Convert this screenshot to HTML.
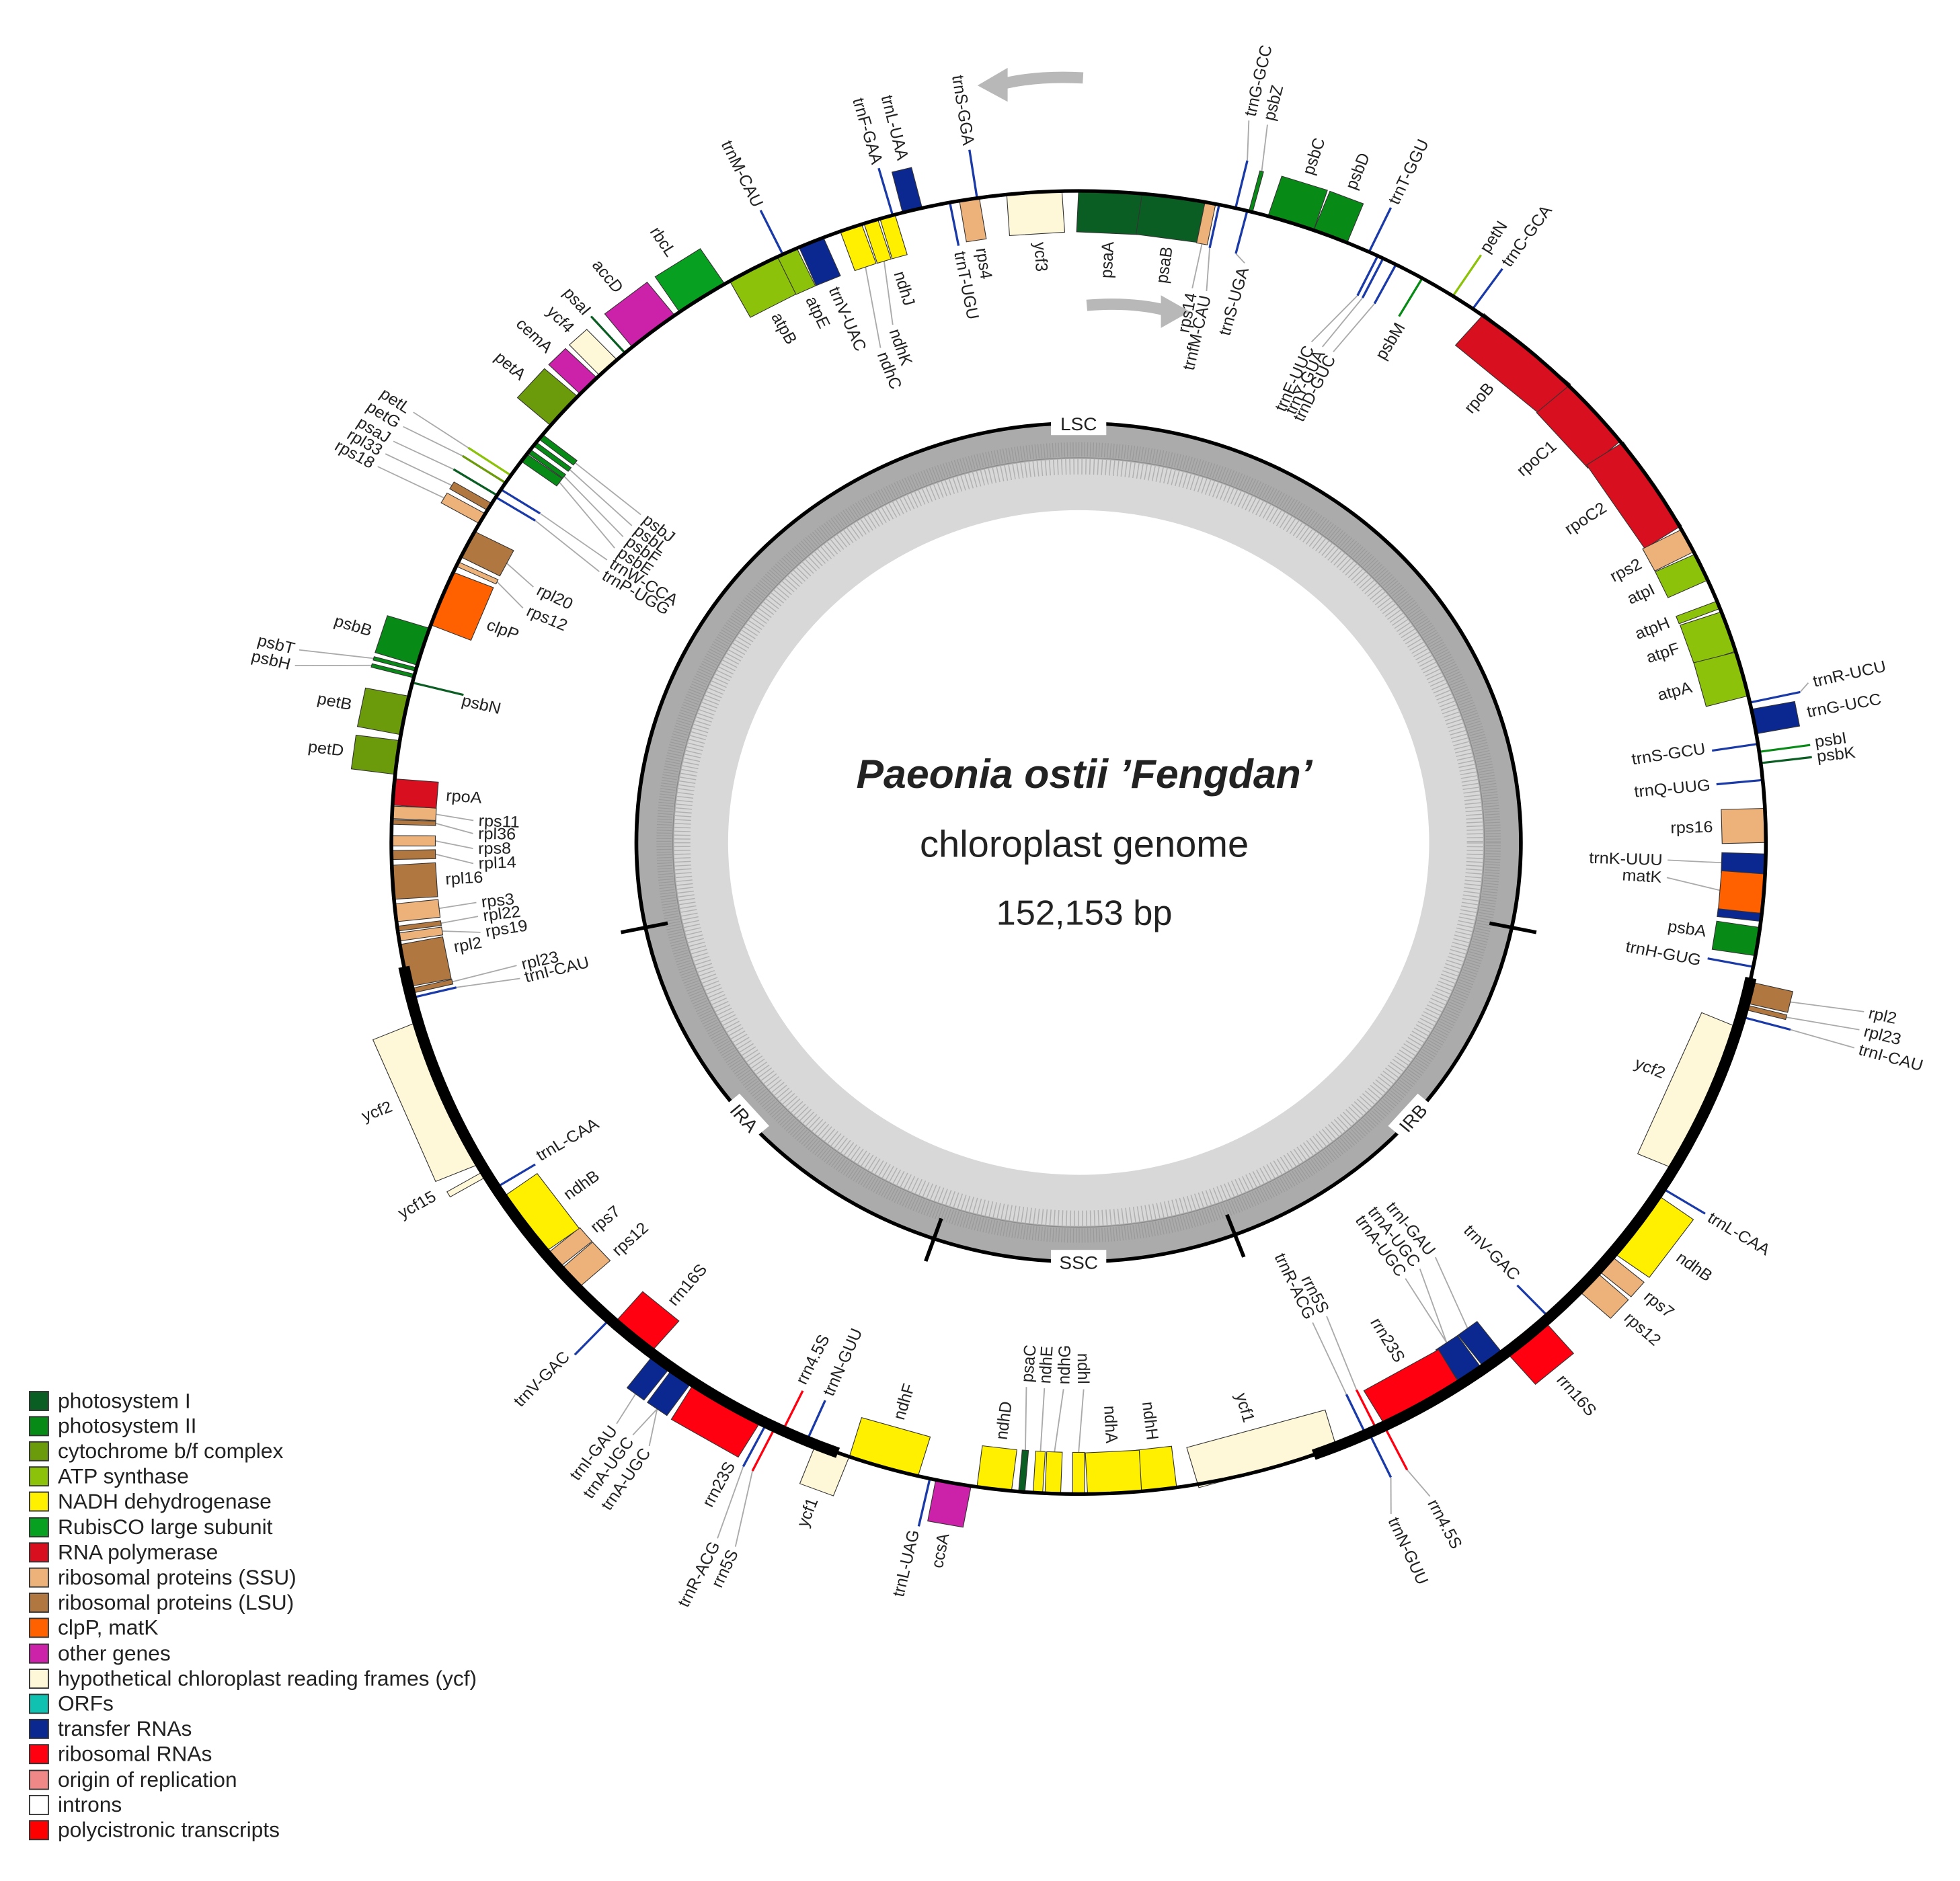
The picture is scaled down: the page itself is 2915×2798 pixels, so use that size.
<!DOCTYPE html>
<html><head><meta charset="utf-8"><style>
html,body{margin:0;padding:0;background:#fff}
svg{display:block}
text{font-family:"Liberation Sans",Arial,sans-serif;fill:#222}
.g rect{stroke:#333;stroke-width:.6}
.p1{fill:#0b5e23}.p2{fill:#078a16}.cy{fill:#6b9a0a}.at{fill:#8cc20a}.nd{fill:#fff000}.rb{fill:#08a020}.rp{fill:#d80f1e}.ss{fill:#edb27a}.ls{fill:#b07840}.cl{fill:#ff6000}.ot{fill:#cc22aa}.yc{fill:#fff8d8}.tr{fill:#0a2890}.rr{fill:#ff0010}
.lt{stroke:#1a3aa8;stroke-width:1.8}.lr{stroke:#ff0010;stroke-width:1.8}.lg{stroke:#078a16;stroke-width:1.8}.lp{stroke:#0b5e23;stroke-width:1.8}.lc{stroke:#8cc20a;stroke-width:1.8}.ly{stroke:#6b9a0a;stroke-width:1.8}
.ld line{stroke:#aaa;stroke-width:1}
.lab text{font-size:13.5px}
</style></head><body>
<svg width="2915" height="2798" viewBox="0 0 1560 1497" preserveAspectRatio="none" xmlns="http://www.w3.org/2000/svg">
<rect width="1560" height="1497" fill="#fff"/>
<path d="M862,62 Q825,60 797,67" stroke="#b8b8b8" stroke-width="9" fill="none"/>
<polygon points="778,68 802,54 802,81" fill="#b8b8b8"/>
<path d="M865,243 Q900,240 928,247" stroke="#b8b8b8" stroke-width="9" fill="none"/>
<polygon points="947,248 924,235 924,261" fill="#b8b8b8"/>

<g transform="translate(858.5,670.5) scale(1,0.948)">
<circle r="352" fill="#ababab"/>
<circle r="322" fill="#d8d8d8"/>
<circle r="316" fill="none" stroke="#b0b0b0" stroke-width="14" stroke-dasharray="0.8 2.4"/>
<circle r="330" fill="none" stroke="#9a9a9a" stroke-width="12" stroke-dasharray="0.7 1.6"/>
<circle r="323" fill="none" stroke="#8a8a8a" stroke-width="0.7"/>
<circle r="279" fill="#fff"/>
<circle r="352" fill="none" stroke="#000" stroke-width="3"/>
<g stroke="#000" stroke-width="3">
<line transform="rotate(101.7)" y1="-334" y2="-372"/>
<line transform="rotate(159.3)" y1="-334" y2="-372"/>
<line transform="rotate(199.1)" y1="-334" y2="-372"/>
<line transform="rotate(258.3)" y1="-334" y2="-372"/>
</g>
<g font-size="15">
<rect x="-22" y="-362" width="44" height="20" fill="#fff"/>
<text x="0" y="-346" text-anchor="middle" font-size="15">LSC</text>
<g transform="rotate(180) translate(0,-352) rotate(180)"><rect x="-22" y="-10" width="44" height="20" fill="#fff"/><text y="6" text-anchor="middle" font-size="15">SSC</text></g>
<g transform="rotate(131) translate(0,-352) rotate(180)"><rect x="-18" y="-10" width="36" height="20" fill="#fff"/><text y="6" text-anchor="middle" font-size="15">IRB</text></g>
<g transform="rotate(229) translate(0,-352) rotate(180)"><rect x="-18" y="-10" width="36" height="20" fill="#fff"/><text y="6" text-anchor="middle" font-size="15">IRA</text></g>
</g>

<g class="ld">
<line transform="rotate(13.2)" y1="-588" x2="-6.5" y2="-621"/>
<line transform="rotate(14.5)" y1="-582" x2="-5.4" y2="-621"/>
<line transform="rotate(77.6)" y1="-588" x2="-6.2" y2="-596"/>
<line transform="rotate(103.3)" y1="-582" x2="-5.6" y2="-641"/>
<line transform="rotate(104.6)" y1="-582" x2="-4.5" y2="-641"/>
<line transform="rotate(105.5)" y1="-588" x2="1.1" y2="-641"/>
<line transform="rotate(153.6)" y1="-588" x2="-6.4" y2="-616"/>
<line transform="rotate(155)" y1="-588" x2="12.9" y2="-616"/>
<line transform="rotate(206.2)" y1="-588" x2="-15.9" y2="-651"/>
<line transform="rotate(207)" y1="-588" x2="-9.1" y2="-651"/>
<line transform="rotate(217.3)" y1="-582" x2="-3.2" y2="-611"/>
<line transform="rotate(215.2)" y1="-582" x2="3.2" y2="-611"/>
<line transform="rotate(215.2)" y1="-582" x2="-12.8" y2="-611"/>
<line transform="rotate(284.8)" y1="-582" x2="-15.7" y2="-641"/>
<line transform="rotate(285.4)" y1="-582" x2="-8.9" y2="-641"/>
<line transform="rotate(299.8)" y1="-582" x2="-3.4" y2="-641"/>
<line transform="rotate(301)" y1="-582" x2="-4.5" y2="-641"/>
<line transform="rotate(302.2)" y1="-588" x2="-5.6" y2="-641"/>
<line transform="rotate(303.5)" y1="-588" x2="-5.6" y2="-641"/>
<line transform="rotate(304.3)" y1="-588" x2="0" y2="-641"/>
<line transform="rotate(11.05)" y1="-512" x2="-0.4" y2="-474"/>
<line transform="rotate(11.8)" y1="-510" x2="5" y2="-474"/>
<line transform="rotate(14.2)" y1="-510" x2="8.8" y2="-504"/>
<line transform="rotate(25.8)" y1="-510" x2="-16" y2="-459"/>
<line transform="rotate(26.3)" y1="-510" x2="-10.4" y2="-459"/>
<line transform="rotate(27.5)" y1="-510" x2="-10.4" y2="-459"/>
<line transform="rotate(91.9)" y1="-512" x2="-0.8" y2="-469"/>
<line transform="rotate(94.5)" y1="-512" x2="-7.4" y2="-469"/>
<line transform="rotate(142.8)" y1="-512" x2="-15.7" y2="-449"/>
<line transform="rotate(145.1)" y1="-512" x2="-18" y2="-449"/>
<line transform="rotate(145.1)" y1="-512" x2="-3.9" y2="-449"/>
<line transform="rotate(154.3)" y1="-510" x2="-5.4" y2="-444"/>
<line transform="rotate(155.3)" y1="-510" x2="-0.8" y2="-444"/>
<line transform="rotate(180)" y1="-512" x2="-4" y2="-459"/>
<line transform="rotate(182.15)" y1="-512" x2="-5.2" y2="-459"/>
<line transform="rotate(183.4)" y1="-512" x2="0" y2="-459"/>
<line transform="rotate(184.75)" y1="-512" x2="3.6" y2="-459"/>
<line transform="rotate(256.2)" y1="-510" x2="-4.8" y2="-459"/>
<line transform="rotate(256.8)" y1="-512" x2="1.6" y2="-459"/>
<line transform="rotate(261.65)" y1="-512" x2="-5.5" y2="-482"/>
<line transform="rotate(262.4)" y1="-512" x2="1.7" y2="-482"/>
<line transform="rotate(263.8)" y1="-512" x2="1.7" y2="-482"/>
<line transform="rotate(268.9)" y1="-512" x2="-8.4" y2="-482"/>
<line transform="rotate(270.15)" y1="-512" x2="-6.3" y2="-482"/>
<line transform="rotate(271.8)" y1="-512" x2="-7.6" y2="-482"/>
<line transform="rotate(272.65)" y1="-512" x2="-3.8" y2="-482"/>
<line transform="rotate(295.3)" y1="-512" x2="-11" y2="-484"/>
<line transform="rotate(297.25)" y1="-512" x2="-8" y2="-484"/>
<line transform="rotate(302)" y1="-510" x2="-9.3" y2="-444"/>
<line transform="rotate(302.8)" y1="-510" x2="-3.9" y2="-444"/>
<line transform="rotate(306.2)" y1="-512" x2="-18.6" y2="-444"/>
<line transform="rotate(306.9)" y1="-512" x2="-12.4" y2="-444"/>
<line transform="rotate(307.7)" y1="-512" x2="-7" y2="-444"/>
<line transform="rotate(308.5)" y1="-512" x2="-1.5" y2="-444"/>
<line transform="rotate(340.65)" y1="-512" x2="-11.2" y2="-444"/>
<line transform="rotate(342.4)" y1="-512" x2="-9.6" y2="-459"/>
</g>

<g class="g">
<rect transform="rotate(2.65)" x="-25.3" y="-547" width="50.6" height="35" class="p1"/>
<rect transform="rotate(7.95)" x="-25.3" y="-547" width="50.6" height="35" class="p1"/>
<rect transform="rotate(11.05)" x="-4.3" y="-547" width="8.6" height="35" class="ss"/>
<rect transform="rotate(14.5)" x="-1.5" y="-582" width="3" height="35" class="p2"/>
<rect transform="rotate(18)" x="-19.1" y="-582" width="38.2" height="35" class="p2"/>
<rect transform="rotate(21.5)" x="-14.3" y="-582" width="28.6" height="35" class="p2"/>
<rect transform="rotate(40.75)" x="-45.3" y="-547" width="90.7" height="35" class="rp"/>
<rect transform="rotate(48.75)" x="-31" y="-547" width="62" height="35" class="rp"/>
<rect transform="rotate(56.6)" x="-42" y="-547" width="84" height="35" class="rp"/>
<rect transform="rotate(62.4)" x="-10.5" y="-547" width="21" height="35" class="ss"/>
<rect transform="rotate(65)" x="-12" y="-547" width="24" height="35" class="at"/>
<rect transform="rotate(68.6)" x="-3.3" y="-547" width="6.7" height="35" class="at"/>
<rect transform="rotate(71.1)" x="-17.5" y="-547" width="35" height="35" class="at"/>
<rect transform="rotate(75)" x="-19" y="-547" width="38" height="35" class="at"/>
<rect transform="rotate(79.3)" x="-10.5" y="-582" width="21" height="35" class="tr"/>
<rect transform="rotate(88.5)" x="-14.3" y="-547" width="28.6" height="35" class="ss"/>
<rect transform="rotate(91.9)" x="-8.5" y="-547" width="17" height="35" class="tr"/>
<rect transform="rotate(94.5)" x="-16.5" y="-547" width="33" height="35" class="cl"/>
<rect transform="rotate(96.6)" x="-3.3" y="-547" width="6.7" height="35" class="tr"/>
<rect transform="rotate(98.75)" x="-12" y="-547" width="24" height="35" class="p2"/>
<rect transform="rotate(103.3)" x="-9" y="-582" width="18" height="35" class="ls"/>
<rect transform="rotate(104.6)" x="-2" y="-582" width="4" height="35" class="ls"/>
<rect transform="rotate(113.25)" x="-64.5" y="-547" width="129" height="35" class="yc"/>
<rect transform="rotate(125.85)" x="-30" y="-582" width="60" height="35" class="nd"/>
<rect transform="rotate(130.15)" x="-8" y="-582" width="16" height="35" class="ss"/>
<rect transform="rotate(132.3)" x="-10.5" y="-582" width="21" height="35" class="ss"/>
<rect transform="rotate(139.4)" x="-20" y="-582" width="40" height="35" class="rr"/>
<rect transform="rotate(142.8)" x="-9.5" y="-547" width="19" height="35" class="tr"/>
<rect transform="rotate(145.1)" x="-10.5" y="-547" width="21" height="35" class="tr"/>
<rect transform="rotate(149.9)" x="-34.3" y="-547" width="68.7" height="35" class="rr"/>
<rect transform="rotate(164)" x="-57.3" y="-547" width="114.6" height="35" class="yc"/>
<rect transform="rotate(173.3)" x="-14.3" y="-547" width="28.6" height="35" class="nd"/>
<rect transform="rotate(177)" x="-21.5" y="-547" width="43" height="35" class="nd"/>
<rect transform="rotate(180)" x="-4.7" y="-547" width="9.5" height="35" class="nd"/>
<rect transform="rotate(182.15)" x="-6.2" y="-547" width="12.4" height="35" class="nd"/>
<rect transform="rotate(183.4)" x="-3.8" y="-547" width="7.6" height="35" class="nd"/>
<rect transform="rotate(184.75)" x="-2.5" y="-547" width="5" height="35" class="p1"/>
<rect transform="rotate(187.05)" x="-13.8" y="-547" width="27.7" height="35" class="nd"/>
<rect transform="rotate(190.5)" x="-14.3" y="-582" width="28.6" height="35" class="ot"/>
<rect transform="rotate(196.5)" x="-28.5" y="-547" width="57" height="35" class="nd"/>
<rect transform="rotate(201)" x="-14.3" y="-582" width="28.6" height="35" class="yc"/>
<rect transform="rotate(210.75)" x="-31" y="-582" width="62" height="35" class="rr"/>
<rect transform="rotate(215.2)" x="-9.5" y="-582" width="19" height="35" class="tr"/>
<rect transform="rotate(217.3)" x="-8.5" y="-582" width="17" height="35" class="tr"/>
<rect transform="rotate(220.5)" x="-19" y="-547" width="38" height="35" class="rr"/>
<rect transform="rotate(227.9)" x="-10.5" y="-547" width="21" height="35" class="ss"/>
<rect transform="rotate(230)" x="-7.5" y="-547" width="15" height="35" class="ss"/>
<rect transform="rotate(234)" x="-28.5" y="-547" width="57" height="35" class="nd"/>
<rect transform="rotate(239.5)" x="-2.5" y="-582" width="5" height="35" class="yc"/>
<rect transform="rotate(247.25)" x="-64.5" y="-582" width="129" height="35" class="yc"/>
<rect transform="rotate(256.8)" x="-2" y="-547" width="4" height="35" class="ls"/>
<rect transform="rotate(259.1)" x="-18" y="-547" width="36" height="35" class="ls"/>
<rect transform="rotate(261.65)" x="-3.3" y="-547" width="6.7" height="35" class="ss"/>
<rect transform="rotate(262.4)" x="-2" y="-547" width="4" height="35" class="ls"/>
<rect transform="rotate(263.8)" x="-7.5" y="-547" width="15" height="35" class="ss"/>
<rect transform="rotate(266.5)" x="-14.3" y="-547" width="28.6" height="35" class="ls"/>
<rect transform="rotate(268.9)" x="-3.8" y="-547" width="7.6" height="35" class="ls"/>
<rect transform="rotate(270.15)" x="-4.3" y="-547" width="8.6" height="35" class="ss"/>
<rect transform="rotate(271.8)" x="-1.9" y="-547" width="3.8" height="35" class="ls"/>
<rect transform="rotate(272.65)" x="-5.2" y="-547" width="10.5" height="35" class="ss"/>
<rect transform="rotate(274.45)" x="-11" y="-547" width="22" height="35" class="rp"/>
<rect transform="rotate(277.5)" x="-14.3" y="-582" width="28.6" height="35" class="cy"/>
<rect transform="rotate(281.25)" x="-16.5" y="-582" width="33" height="35" class="cy"/>
<rect transform="rotate(284.8)" x="-1.5" y="-582" width="3" height="35" class="p2"/>
<rect transform="rotate(285.4)" x="-1.5" y="-582" width="3" height="35" class="p2"/>
<rect transform="rotate(287.5)" x="-16.3" y="-582" width="32.5" height="35" class="p2"/>
<rect transform="rotate(292)" x="-23.8" y="-547" width="47.7" height="35" class="cl"/>
<rect transform="rotate(295.3)" x="-2" y="-547" width="4" height="35" class="ss"/>
<rect transform="rotate(297.25)" x="-12" y="-547" width="24" height="35" class="ls"/>
<rect transform="rotate(299.8)" x="-4.7" y="-582" width="9.5" height="35" class="ss"/>
<rect transform="rotate(301)" x="-3.3" y="-582" width="6.7" height="35" class="ls"/>
<rect transform="rotate(306.2)" x="-3.8" y="-547" width="7.6" height="35" class="p2"/>
<rect transform="rotate(306.9)" x="-1.9" y="-547" width="3.8" height="35" class="p2"/>
<rect transform="rotate(307.7)" x="-1.9" y="-547" width="3.8" height="35" class="p2"/>
<rect transform="rotate(308.5)" x="-2.4" y="-547" width="4.8" height="35" class="p2"/>
<rect transform="rotate(311.5)" x="-16.3" y="-582" width="32.5" height="35" class="cy"/>
<rect transform="rotate(314.5)" x="-9.5" y="-582" width="19" height="35" class="ot"/>
<rect transform="rotate(316.8)" x="-9.5" y="-582" width="19" height="35" class="yc"/>
<rect transform="rotate(321.75)" x="-21.5" y="-582" width="43" height="35" class="ot"/>
<rect transform="rotate(326.75)" x="-21.5" y="-582" width="43" height="35" class="rb"/>
<rect transform="rotate(331.75)" x="-21.5" y="-547" width="43" height="35" class="at"/>
<rect transform="rotate(334.9)" x="-8.5" y="-547" width="17" height="35" class="at"/>
<rect transform="rotate(337.1)" x="-10.5" y="-547" width="21" height="35" class="tr"/>
<rect transform="rotate(340.65)" x="-9" y="-547" width="18" height="35" class="nd"/>
<rect transform="rotate(342.4)" x="-5.7" y="-547" width="11.5" height="35" class="nd"/>
<rect transform="rotate(343.85)" x="-6.2" y="-547" width="12.4" height="35" class="nd"/>
<rect transform="rotate(346)" x="-8" y="-582" width="16" height="35" class="tr"/>
<rect transform="rotate(350.85)" x="-8" y="-547" width="16" height="35" class="ss"/>
<rect transform="rotate(356.3)" x="-22" y="-547" width="44" height="35" class="yc"/>
</g>

<g>
<line transform="rotate(11.8)" y1="-547" y2="-510" class="lt"/>
<line transform="rotate(13.2)" y1="-547" y2="-588" class="lt"/>
<line transform="rotate(14.2)" y1="-547" y2="-510" class="lt"/>
<line transform="rotate(25)" y1="-547" y2="-588" class="lt"/>
<line transform="rotate(25.8)" y1="-547" y2="-510" class="lt"/>
<line transform="rotate(26.3)" y1="-547" y2="-510" class="lt"/>
<line transform="rotate(27.5)" y1="-547" y2="-510" class="lt"/>
<line transform="rotate(30)" y1="-547" y2="-510" class="lg"/>
<line transform="rotate(33)" y1="-547" y2="-588" class="lc"/>
<line transform="rotate(35)" y1="-547" y2="-588" class="lt"/>
<line transform="rotate(77.6)" y1="-547" y2="-588" class="lt"/>
<line transform="rotate(81.3)" y1="-547" y2="-510" class="lt"/>
<line transform="rotate(82)" y1="-547" y2="-588" class="lg"/>
<line transform="rotate(83)" y1="-547" y2="-588" class="lp"/>
<line transform="rotate(84.5)" y1="-547" y2="-510" class="lt"/>
<line transform="rotate(101)" y1="-547" y2="-510" class="lt"/>
<line transform="rotate(105.5)" y1="-547" y2="-588" class="lt"/>
<line transform="rotate(122)" y1="-547" y2="-588" class="lt"/>
<line transform="rotate(136.8)" y1="-547" y2="-510" class="lt"/>
<line transform="rotate(153.6)" y1="-547" y2="-588" class="lr"/>
<line transform="rotate(155)" y1="-547" y2="-588" class="lt"/>
<line transform="rotate(154.3)" y1="-547" y2="-510" class="lr"/>
<line transform="rotate(155.3)" y1="-547" y2="-510" class="lt"/>
<line transform="rotate(192.5)" y1="-547" y2="-588" class="lt"/>
<line transform="rotate(203.3)" y1="-547" y2="-510" class="lt"/>
<line transform="rotate(205.5)" y1="-547" y2="-510" class="lr"/>
<line transform="rotate(206.2)" y1="-547" y2="-588" class="lr"/>
<line transform="rotate(207)" y1="-547" y2="-588" class="lt"/>
<line transform="rotate(223)" y1="-547" y2="-588" class="lt"/>
<line transform="rotate(238)" y1="-547" y2="-510" class="lt"/>
<line transform="rotate(256.2)" y1="-547" y2="-510" class="lt"/>
<line transform="rotate(284.2)" y1="-547" y2="-505" class="lp"/>
<line transform="rotate(302)" y1="-547" y2="-510" class="lt"/>
<line transform="rotate(302.8)" y1="-547" y2="-510" class="lt"/>
<line transform="rotate(302.2)" y1="-547" y2="-588" class="lp"/>
<line transform="rotate(303.5)" y1="-547" y2="-588" class="ly"/>
<line transform="rotate(304.3)" y1="-547" y2="-588" class="lc"/>
<line transform="rotate(318.7)" y1="-547" y2="-588" class="lp"/>
<line transform="rotate(334.5)" y1="-547" y2="-588" class="lt"/>
<line transform="rotate(344.3)" y1="-547" y2="-588" class="lt"/>
<line transform="rotate(349.2)" y1="-547" y2="-510" class="lt"/>
<line transform="rotate(351.5)" y1="-547" y2="-588" class="lt"/>
</g>

<circle r="547" fill="none" stroke="#000" stroke-width="3"/>
<path d="M535.1,113.7 A547,547 0 0 1 187.1,514" fill="none" stroke="#000" stroke-width="9"/>
<path d="M-191.6,512.4 A547,547 0 0 1 -537,104.4" fill="none" stroke="#000" stroke-width="9"/>

<g class="lab">
<g text-anchor="start">
<text transform="rotate(-72)" x="590" y="4.5">psbC</text>
<text transform="rotate(-68.5)" x="590" y="4.5">psbD</text>
<text transform="rotate(-65)" x="592" y="4.5">trnT-GGU</text>
<text transform="rotate(-77.4)" x="625" y="4.5">trnG-GCC</text>
<text transform="rotate(-76)" x="625" y="4.5">psbZ</text>
<text transform="rotate(-57)" x="592" y="4.5">petN</text>
<text transform="rotate(-55)" x="592" y="4.5">trnC-GCA</text>
<text transform="rotate(-13)" x="600" y="4.5">trnR-UCU</text>
<text transform="rotate(-10.7)" x="590" y="4.5">trnG-UCC</text>
<text transform="rotate(-8.2)" x="592" y="4.5">psbI</text>
<text transform="rotate(-7)" x="592" y="4.5">psbK</text>
<text transform="rotate(12.8)" x="645" y="4.5">rpl2</text>
<text transform="rotate(14.2)" x="645" y="4.5">rpl23</text>
<text transform="rotate(15.6)" x="645" y="4.5">trnI-CAU</text>
<text transform="rotate(32)" x="592" y="4.5">trnL-CAA</text>
<text transform="rotate(36)" x="590" y="4.5">ndhB</text>
<text transform="rotate(40)" x="590" y="4.5">rps7</text>
<text transform="rotate(42.3)" x="590" y="4.5">rps12</text>
<text transform="rotate(49.5)" x="590" y="4.5">rrn16S</text>
<text transform="rotate(63)" x="620" y="4.5">rrn4.5S</text>
<text transform="rotate(66.2)" x="620" y="4.5">trnN-GUU</text>
<text transform="rotate(271.5)" x="-455" y="4.5">ndhG</text>
<text transform="rotate(273.4)" x="-455" y="4.5">ndhE</text>
<text transform="rotate(275.2)" x="-455" y="4.5">psaC</text>
<text transform="rotate(277)" x="-505" y="4.5">ndhD</text>
<text transform="rotate(286.5)" x="-505" y="4.5">ndhF</text>
<text transform="rotate(293.3)" x="-505" y="4.5">trnN-GUU</text>
<text transform="rotate(296)" x="-505" y="4.5">rrn4.5S</text>
<text transform="rotate(310)" x="-505" y="4.5">rrn16S</text>
<text transform="rotate(317)" x="-505" y="4.5">rps12</text>
<text transform="rotate(320)" x="-505" y="4.5">rps7</text>
<text transform="rotate(324)" x="-505" y="4.5">ndhB</text>
<text transform="rotate(328.5)" x="-505" y="4.5">trnL-CAA</text>
<text transform="rotate(345.6)" x="-455" y="4.5">trnI-CAU</text>
<text transform="rotate(347)" x="-455" y="4.5">rpl23</text>
<text transform="rotate(350)" x="-505" y="4.5">rpl2</text>
<text transform="rotate(351)" x="-478" y="4.5">rps19</text>
<text transform="rotate(352.6)" x="-478" y="4.5">rpl22</text>
<text transform="rotate(354)" x="-478" y="4.5">rps3</text>
<text transform="rotate(356.5)" x="-505" y="4.5">rpl16</text>
<text transform="rotate(357.9)" x="-478" y="4.5">rpl14</text>
<text transform="rotate(359.4)" x="-478" y="4.5">rps8</text>
<text transform="rotate(360.9)" x="-478" y="4.5">rpl36</text>
<text transform="rotate(362.2)" x="-478" y="4.5">rps11</text>
<text transform="rotate(364.5)" x="-505" y="4.5">rpoA</text>
<text transform="rotate(373.7)" x="-505" y="4.5">psbN</text>
<text transform="rotate(381.3)" x="-505" y="4.5">clpP</text>
<text transform="rotate(384)" x="-480" y="4.5">rps12</text>
<text transform="rotate(386.3)" x="-480" y="4.5">rpl20</text>
<text transform="rotate(390.8)" x="-440" y="4.5">trnP-UGG</text>
<text transform="rotate(392.3)" x="-440" y="4.5">trnW-CCA</text>
<text transform="rotate(393.8)" x="-440" y="4.5">psbE</text>
<text transform="rotate(395.3)" x="-440" y="4.5">psbF</text>
<text transform="rotate(396.8)" x="-440" y="4.5">psbL</text>
<text transform="rotate(398.3)" x="-440" y="4.5">psbJ</text>
<text transform="rotate(421.5)" x="-505" y="4.5">atpB</text>
<text transform="rotate(425)" x="-505" y="4.5">atpE</text>
<text transform="rotate(427.3)" x="-505" y="4.5">trnV-UAC</text>
<text transform="rotate(429.2)" x="-440" y="4.5">ndhC</text>
<text transform="rotate(431.2)" x="-455" y="4.5">ndhK</text>
<text transform="rotate(433.4)" x="-500" y="4.5">ndhJ</text>
<text transform="rotate(439.2)" x="-505" y="4.5">trnT-UGU</text>
<text transform="rotate(441.2)" x="-505" y="4.5">rps4</text>
<text transform="rotate(446.5)" x="-505" y="4.5">ycf3</text>
</g>
<g text-anchor="end">
<text transform="rotate(-87.35)" x="505" y="4.5">psaA</text>
<text transform="rotate(-82)" x="505" y="4.5">psaB</text>
<text transform="rotate(-79)" x="470" y="4.5">rps14</text>
<text transform="rotate(-77.6)" x="470" y="4.5">trnfM-CAU</text>
<text transform="rotate(-74.8)" x="500" y="4.5">trnS-UGA</text>
<text transform="rotate(-66.2)" x="455" y="4.5">trnE-UUC</text>
<text transform="rotate(-65)" x="455" y="4.5">trnY-GUA</text>
<text transform="rotate(-63.8)" x="455" y="4.5">trnD-GUC</text>
<text transform="rotate(-59.5)" x="505" y="4.5">psbM</text>
<text transform="rotate(-49.5)" x="505" y="4.5">rpoB</text>
<text transform="rotate(-41.5)" x="505" y="4.5">rpoC1</text>
<text transform="rotate(-34)" x="505" y="4.5">rpoC2</text>
<text transform="rotate(-27.7)" x="505" y="4.5">rps2</text>
<text transform="rotate(-25)" x="505" y="4.5">atpI</text>
<text transform="rotate(-21.5)" x="505" y="4.5">atpH</text>
<text transform="rotate(-18.9)" x="505" y="4.5">atpF</text>
<text transform="rotate(-15)" x="505" y="4.5">atpA</text>
<text transform="rotate(-9)" x="505" y="4.5">trnS-GCU</text>
<text transform="rotate(-5.5)" x="505" y="4.5">trnQ-UUG</text>
<text transform="rotate(-1.5)" x="505" y="4.5">rps16</text>
<text transform="rotate(1.8)" x="465" y="4.5">trnK-UUU</text>
<text transform="rotate(3.6)" x="465" y="4.5">matK</text>
<text transform="rotate(8.5)" x="505" y="4.5">psbA</text>
<text transform="rotate(11.3)" x="505" y="4.5">trnH-GUG</text>
<text transform="rotate(22.6)" x="505" y="4.5">ycf2</text>
<text transform="rotate(46.3)" x="505" y="4.5">trnV-GAC</text>
<text transform="rotate(50.8)" x="445" y="4.5">trnI-GAU</text>
<text transform="rotate(52.8)" x="445" y="4.5">trnA-UGC</text>
<text transform="rotate(54.6)" x="445" y="4.5">trnA-UGC</text>
<text transform="rotate(59.5)" x="505" y="4.5">rrn23S</text>
<text transform="rotate(63.6)" x="440" y="4.5">rrn5S</text>
<text transform="rotate(65.2)" x="440" y="4.5">trnR-ACG</text>
<text transform="rotate(74.4)" x="505" y="4.5">ycf1</text>
<text transform="rotate(83.3)" x="505" y="4.5">ndhH</text>
<text transform="rotate(87)" x="505" y="4.5">ndhA</text>
<text transform="rotate(89.5)" x="455" y="4.5">ndhI</text>
<text transform="rotate(280.5)" x="-590" y="4.5">ccsA</text>
<text transform="rotate(282.8)" x="-592" y="4.5">trnL-UAG</text>
<text transform="rotate(291)" x="-590" y="4.5">ycf1</text>
<text transform="rotate(294.8)" x="-655" y="4.5">rrn5S</text>
<text transform="rotate(296.2)" x="-655" y="4.5">trnR-ACG</text>
<text transform="rotate(298)" x="-590" y="4.5">rrn23S</text>
<text transform="rotate(304)" x="-615" y="4.5">trnA-UGC</text>
<text transform="rotate(305.5)" x="-615" y="4.5">trnA-UGC</text>
<text transform="rotate(307)" x="-615" y="4.5">trnI-GAU</text>
<text transform="rotate(313.5)" x="-592" y="4.5">trnV-GAC</text>
<text transform="rotate(330)" x="-592" y="4.5">ycf15</text>
<text transform="rotate(338)" x="-590" y="4.5">ycf2</text>
<text transform="rotate(367.5)" x="-590" y="4.5">petD</text>
<text transform="rotate(371.3)" x="-590" y="4.5">petB</text>
<text transform="rotate(373.4)" x="-645" y="4.5">psbH</text>
<text transform="rotate(374.6)" x="-645" y="4.5">psbT</text>
<text transform="rotate(377.5)" x="-590" y="4.5">psbB</text>
<text transform="rotate(389.5)" x="-645" y="4.5">rps18</text>
<text transform="rotate(390.6)" x="-645" y="4.5">rpl33</text>
<text transform="rotate(391.7)" x="-645" y="4.5">psaJ</text>
<text transform="rotate(393)" x="-645" y="4.5">petG</text>
<text transform="rotate(394.3)" x="-645" y="4.5">petL</text>
<text transform="rotate(401.5)" x="-590" y="4.5">petA</text>
<text transform="rotate(404.5)" x="-590" y="4.5">cemA</text>
<text transform="rotate(406.8)" x="-590" y="4.5">ycf4</text>
<text transform="rotate(408.7)" x="-592" y="4.5">psaI</text>
<text transform="rotate(411.75)" x="-590" y="4.5">accD</text>
<text transform="rotate(416.75)" x="-590" y="4.5">rbcL</text>
<text transform="rotate(424.5)" x="-592" y="4.5">trnM-CAU</text>
<text transform="rotate(434.3)" x="-592" y="4.5">trnF-GAA</text>
<text transform="rotate(436.3)" x="-590" y="4.5">trnL-UAA</text>
<text transform="rotate(441.5)" x="-592" y="4.5">trnS-GGA</text>
</g>
</g>
</g>

<text x="863" y="627" text-anchor="middle" font-size="32.5" font-weight="bold" font-style="italic" fill="#111">Paeonia ostii ’Fengdan’</text>
<text x="863" y="682" text-anchor="middle" font-size="30" fill="#111">chloroplast genome</text>
<text x="863" y="736" text-anchor="middle" font-size="28" fill="#111">152,153 bp</text>

<g stroke="#333" stroke-width="1">
<rect x="23.5" y="1107.5" width="15" height="15" fill="#0b5e23"/>
<rect x="23.5" y="1127.5" width="15" height="15" fill="#078a16"/>
<rect x="23.5" y="1147.5" width="15" height="15" fill="#6b9a0a"/>
<rect x="23.5" y="1167.5" width="15" height="15" fill="#8cc20a"/>
<rect x="23.5" y="1187.5" width="15" height="15" fill="#fff000"/>
<rect x="23.5" y="1208" width="15" height="15" fill="#08a020"/>
<rect x="23.5" y="1228" width="15" height="15" fill="#d80f1e"/>
<rect x="23.5" y="1248" width="15" height="15" fill="#edb27a"/>
<rect x="23.5" y="1268" width="15" height="15" fill="#b07840"/>
<rect x="23.5" y="1288" width="15" height="15" fill="#ff6000"/>
<rect x="23.5" y="1308.5" width="15" height="15" fill="#cc22aa"/>
<rect x="23.5" y="1328.5" width="15" height="15" fill="#fff8d8"/>
<rect x="23.5" y="1348.5" width="15" height="15" fill="#10c0b0"/>
<rect x="23.5" y="1368.5" width="15" height="15" fill="#0a2890"/>
<rect x="23.5" y="1388.5" width="15" height="15" fill="#ff0010"/>
<rect x="23.5" y="1409" width="15" height="15" fill="#f08888"/>
<rect x="23.5" y="1429" width="15" height="15" fill="#fff"/>
<rect x="23.5" y="1449" width="15" height="15" fill="#ff0000"/>
</g>
<g font-size="17">
<text x="46" y="1120.5">photosystem I</text>
<text x="46" y="1140.5">photosystem II</text>
<text x="46" y="1160.5">cytochrome b/f complex</text>
<text x="46" y="1180.5">ATP synthase</text>
<text x="46" y="1200.5">NADH dehydrogenase</text>
<text x="46" y="1221">RubisCO large subunit</text>
<text x="46" y="1241">RNA polymerase</text>
<text x="46" y="1261">ribosomal proteins (SSU)</text>
<text x="46" y="1281">ribosomal proteins (LSU)</text>
<text x="46" y="1301">clpP, matK</text>
<text x="46" y="1321.5">other genes</text>
<text x="46" y="1341.5">hypothetical chloroplast reading frames (ycf)</text>
<text x="46" y="1361.5">ORFs</text>
<text x="46" y="1381.5">transfer RNAs</text>
<text x="46" y="1401.5">ribosomal RNAs</text>
<text x="46" y="1422">origin of replication</text>
<text x="46" y="1442">introns</text>
<text x="46" y="1462">polycistronic transcripts</text>
</g>
</svg>
</body></html>
